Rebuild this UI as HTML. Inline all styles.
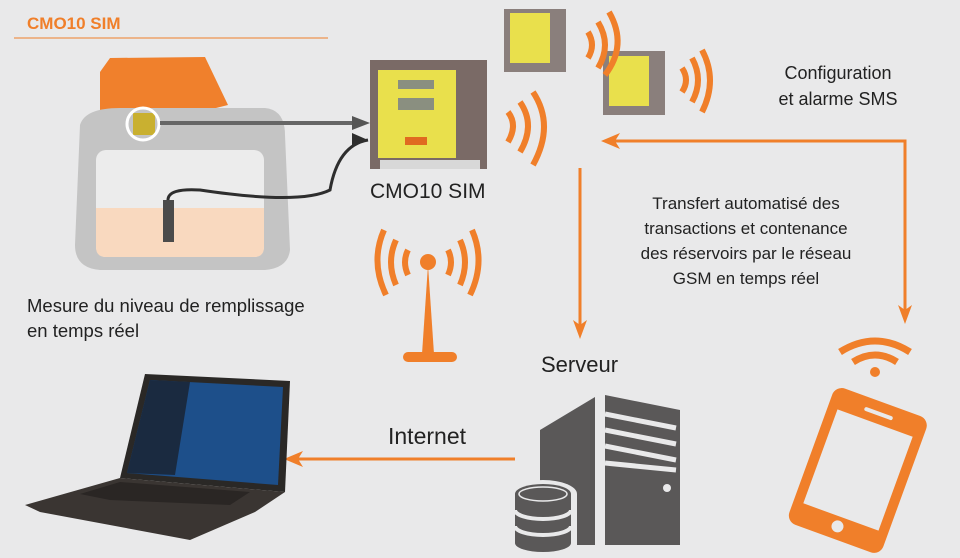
<!DOCTYPE html>
<html><head><meta charset="utf-8"><style>
html,body{margin:0;padding:0;background:#e9e9ea;}
svg{display:block}
text{font-family:"Liberation Sans",sans-serif;}
</style></head><body>
<svg width="960" height="558" viewBox="0 0 960 558" xmlns="http://www.w3.org/2000/svg">
<rect width="960" height="558" fill="#e9e9ea"/>
<text x="27" y="29" font-size="17" font-weight="bold" fill="#f07f2a">CMO10 SIM</text>
<line x1="14" y1="38" x2="328" y2="38" stroke="#f07f2a" stroke-width="1"/>

<!-- tank -->
<path d="M100,72 L110,58 L205,57 L228,105 L200,112 L100,112 Z" fill="#f0802c"/>
<path d="M80,125 Q85,108 120,108 L265,108 Q285,110 285,135 L290,250 Q288,268 265,270 L100,270 Q75,268 75,245 Z" fill="#c4c4c4"/>
<rect x="96" y="150" width="168" height="107" rx="10" fill="#ececec"/>
<path d="M96,208 L264,208 L264,247 Q264,257 254,257 L106,257 Q96,257 96,247 Z" fill="#f9d9bf"/>
<rect x="163" y="200" width="11" height="42" fill="#4b4b4b"/>
<path d="M168,200 Q168,188 200,190 Q300,205 330,190 Q338,145 368,140" stroke="#2e2e2e" stroke-width="3" fill="none"/>
<polygon points="368,140 352,133 352,147" fill="#2e2e2e"/>
<rect x="133" y="113" width="22" height="22" fill="#c9b030"/>
<circle cx="143" cy="124" r="16" fill="none" stroke="#fff" stroke-width="3"/>
<line x1="160" y1="123" x2="355" y2="123" stroke="#666" stroke-width="4"/>
<polygon points="370,123 352,116 352,130" fill="#555"/>

<!-- main device -->
<rect x="370" y="60" width="117" height="109" fill="#7a6a66"/>
<rect x="378" y="70" width="78" height="88" fill="#e9e04c"/>
<rect x="398" y="80" width="36" height="9" fill="#8a8f80"/>
<rect x="398" y="98" width="36" height="12" fill="#8a8f80"/>
<rect x="405" y="137" width="22" height="8" fill="#e06a20"/>
<rect x="380" y="160" width="100" height="9" fill="#d8d8d8"/>
<text x="370" y="198" font-size="21" fill="#222">CMO10 SIM</text>

<!-- small devices -->
<rect x="504" y="9" width="62" height="63" fill="#8a7f7c"/>
<rect x="510" y="13" width="40" height="50" fill="#e9e04c"/>
<rect x="603" y="51" width="62" height="64" fill="#8a7f7c"/>
<rect x="609" y="56" width="40" height="50" fill="#e9e04c"/>

<g fill="none" stroke="#f07f2a" stroke-width="6" stroke-linecap="butt">
<path d="M508,112 Q518,125 508,142"/><path d="M520,102 Q536,125 520,152"/><path d="M533,92 Q555,125 533,165"/>
<path d="M588,32 Q596,45 588,58"/><path d="M598,22 Q612,45 598,68"/><path d="M609,12 Q628,45 605,75"/>
<path d="M682,68 Q690,80 682,92"/><path d="M692,58 Q704,80 692,102"/><path d="M702,50 Q718,80 702,112"/>
<path d="M408,250 Q402,262 408,275"/><path d="M396,240 Q386,262 396,285"/><path d="M384,230 Q370,262 386,295"/>
<path d="M448,250 Q454,262 448,275"/><path d="M460,240 Q470,262 460,285"/><path d="M472,230 Q486,262 470,295"/>
</g>
<circle cx="428" cy="262" r="8" fill="#f07f2a"/>
<polygon points="428,265 422,354 434,354" fill="#f07f2a"/>
<rect x="403" y="352" width="54" height="10" rx="5" fill="#f07f2a"/>

<text x="838" y="79" font-size="18" fill="#222" text-anchor="middle">Configuration</text>
<text x="838" y="105" font-size="18" fill="#222" text-anchor="middle">et alarme SMS</text>

<!-- arrows -->
<g stroke="#f07f2a" stroke-width="3" fill="none">
<path d="M615,141 L905,141 L905,310"/>
<line x1="580" y1="168" x2="580" y2="325"/>
<line x1="515" y1="459" x2="298" y2="459"/>
</g>
<polygon points="601,141 620,133 615,141 620,149" fill="#f07f2a"/>
<polygon points="905,324 898,305 905,310 912,305" fill="#f07f2a"/>
<polygon points="580,339 573,320 580,325 587,320" fill="#f07f2a"/>
<polygon points="284,459 303,451 298,459 303,467" fill="#f07f2a"/>

<g font-size="17" fill="#222" text-anchor="middle">
<text x="746" y="209">Transfert automatisé des</text>
<text x="746" y="234">transactions et contenance</text>
<text x="746" y="259">des réservoirs par le réseau</text>
<text x="746" y="284">GSM en temps réel</text>
</g>
<text x="27" y="312" font-size="18.5" fill="#222">Mesure du niveau de remplissage</text>
<text x="27" y="337" font-size="18.5" fill="#222">en temps réel</text>
<text x="541" y="372" font-size="22" fill="#222">Serveur</text>
<text x="388" y="444" font-size="23" fill="#222">Internet</text>

<!-- server -->
<polygon points="540,430 595,397 595,545 540,545" fill="#5a5858"/>
<polygon points="605,395 680,410 680,545 605,545" fill="#5a5858"/>
<g stroke="#e9e9ea" stroke-width="5" fill="none">
<line x1="605" y1="414" x2="676" y2="428"/>
<line x1="605" y1="430" x2="676" y2="444"/>
<line x1="605" y1="446" x2="676" y2="460"/>
<line x1="605" y1="463" x2="676" y2="470"/>
</g>
<circle cx="667" cy="488" r="4" fill="#e9e9ea"/>
<!-- database -->
<path d="M509,494 A34,14 0 0 1 577,494 L577,546 A34,12 0 0 1 509,546 Z" fill="#e9e9ea"/>
<path d="M515,494 A28,10 0 0 1 571,494 L571,543 A28,9 0 0 1 515,543 Z" fill="#5a5858"/>
<ellipse cx="543" cy="494" rx="24" ry="7" fill="none" stroke="#e9e9ea" stroke-width="1.5"/>
<g fill="none" stroke="#e9e9ea" stroke-width="4">
<path d="M515,510 A28,9 0 0 0 571,510"/>
<path d="M515,526 A28,9 0 0 0 571,526"/>
</g>

<!-- phone -->
<g fill="none" stroke="#f07f2a" stroke-width="7">
<path d="M840,352 Q875,330 910,352"/><path d="M853,362 Q875,348 897,362"/>
</g>
<circle cx="875" cy="372" r="5" fill="#f07f2a"/>
<g transform="rotate(20 858 470)">
<rect x="808" y="398" width="100" height="145" rx="10" fill="#f07f2a"/>
<rect x="818" y="420" width="80" height="100" fill="#e9e9ea"/>
<rect x="843" y="408" width="30" height="4" rx="2" fill="#e9e9ea"/>
<circle cx="858" cy="530" r="6" fill="#e9e9ea"/>
</g>

<!-- laptop -->
<polygon points="145,374 290,381 285,492 120,478" fill="#2a2826"/>
<polygon points="150,380 283,387 278,485 127,473" fill="#1d4f8a"/>
<polygon points="150,380 190,382 175,475 127,473" fill="#1a2a40"/>
<polygon points="25,505 120,478 285,492 255,512 190,540 40,512" fill="#3a3532"/>
<polygon points="80,494 120,482 250,492 230,505 110,500" fill="#2a2624"/>
</svg>
</body></html>
